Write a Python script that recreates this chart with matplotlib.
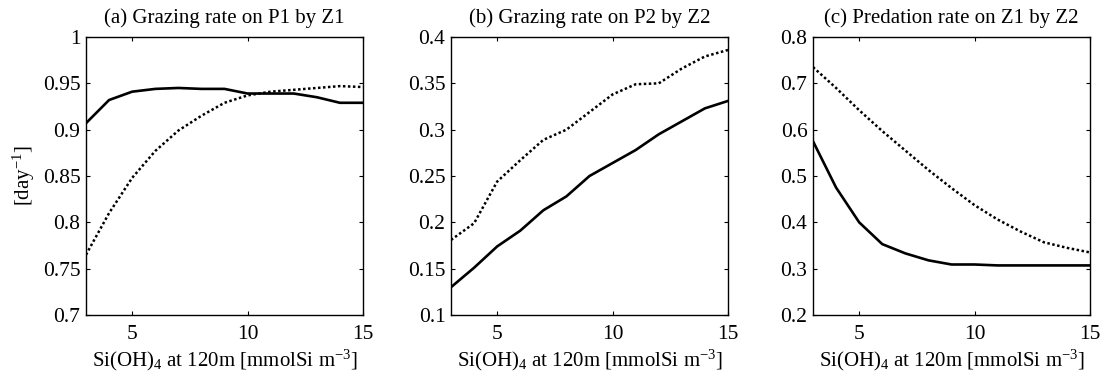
import matplotlib
matplotlib.use("Agg")
import matplotlib.pyplot as plt

plt.rcParams['font.family'] = ['Liberation Serif', 'DejaVu Serif']
plt.rcParams['mathtext.fontset'] = 'custom'
plt.rcParams['mathtext.rm'] = 'Liberation Serif'
plt.rcParams['mathtext.it'] = 'Liberation Serif:italic'
plt.rcParams['font.size'] = 11

# Si(OH)4 at 120m
si = [3, 4, 5, 6, 7, 8, 9, 10, 11, 12, 13, 14, 15]

# (a) grazing on P1 by Z1
a_solid = [0.907, 0.932, 0.941, 0.944, 0.945, 0.944, 0.944, 0.939, 0.939, 0.939, 0.935, 0.929, 0.929]
a_dot = [0.765, 0.810, 0.848, 0.877, 0.899, 0.915, 0.929, 0.937, 0.941, 0.943, 0.945, 0.947, 0.946]
# (b) grazing on P2 by Z2
b_solid = [0.130, 0.151, 0.174, 0.191, 0.213, 0.228, 0.250, 0.264, 0.278, 0.295, 0.309, 0.323, 0.331]
b_dot = [0.181, 0.199, 0.244, 0.267, 0.289, 0.300, 0.319, 0.338, 0.349, 0.350, 0.366, 0.379, 0.386]
# (c) predation on Z1 by Z2
c_solid = [0.575, 0.475, 0.400, 0.353, 0.333, 0.318, 0.309, 0.309, 0.307, 0.307, 0.307, 0.307, 0.307]
c_dot = [0.735, 0.690, 0.642, 0.597, 0.555, 0.513, 0.474, 0.437, 0.406, 0.380, 0.357, 0.345, 0.335]

titles = ["(a) Grazing rate on P1 by Z1", "(b) Grazing rate on P2 by Z2", "(c) Predation rate on Z1 by Z2"]
ylims = [(0.7, 1.0), (0.1, 0.4), (0.2, 0.8)]
yticks = [[0.7, 0.75, 0.8, 0.85, 0.9, 0.95, 1.0],
          [0.1, 0.15, 0.2, 0.25, 0.3, 0.35, 0.4],
          [0.2, 0.3, 0.4, 0.5, 0.6, 0.7, 0.8]]
ylabs = [["0.7", "0.75", "0.8", "0.85", "0.9", "0.95", "1"],
         ["0.1", "0.15", "0.2", "0.25", "0.3", "0.35", "0.4"],
         ["0.2", "0.3", "0.4", "0.5", "0.6", "0.7", "0.8"]]
solids = [a_solid, b_solid, c_solid]
dots = [a_dot, b_dot, c_dot]

fig = plt.figure(figsize=(11.06, 3.82), dpi=100)
lefts = [86, 451, 813]
for i in range(3):
    ax = fig.add_axes([lefts[i] / 1106, 1 - 315 / 382, 277 / 1106, 278 / 382])
    ax.plot(si, solids[i], color='black', lw=1.9)
    ax.plot(si, dots[i], color='black', lw=1.8, linestyle=(0, (1, 1)))
    ax.set_xlim(3, 15)
    ax.set_ylim(*ylims[i])
    ax.set_xticks([5, 10, 15])
    ax.set_yticks(yticks[i])
    ax.set_yticklabels(ylabs[i])
    ax.tick_params(direction='in', top=True, right=True, labelsize=15.5, length=3, width=0.8)
    ax.tick_params(axis='x', pad=7)
    ax.tick_params(axis='y', pad=4)
    ax.set_title(titles[i], fontsize=15, pad=10)
    ax.set_xlabel(r"Si(OH)$_4$ at 120m [mmolSi m$^{-3}$]", fontsize=15, labelpad=3)
    for s in ax.spines.values():
        s.set_linewidth(1.0)
    if i == 0:
        ax.set_ylabel(r"[day$^{-1}$]", fontsize=15, labelpad=4)

fig.savefig("out.png", dpi=100)
